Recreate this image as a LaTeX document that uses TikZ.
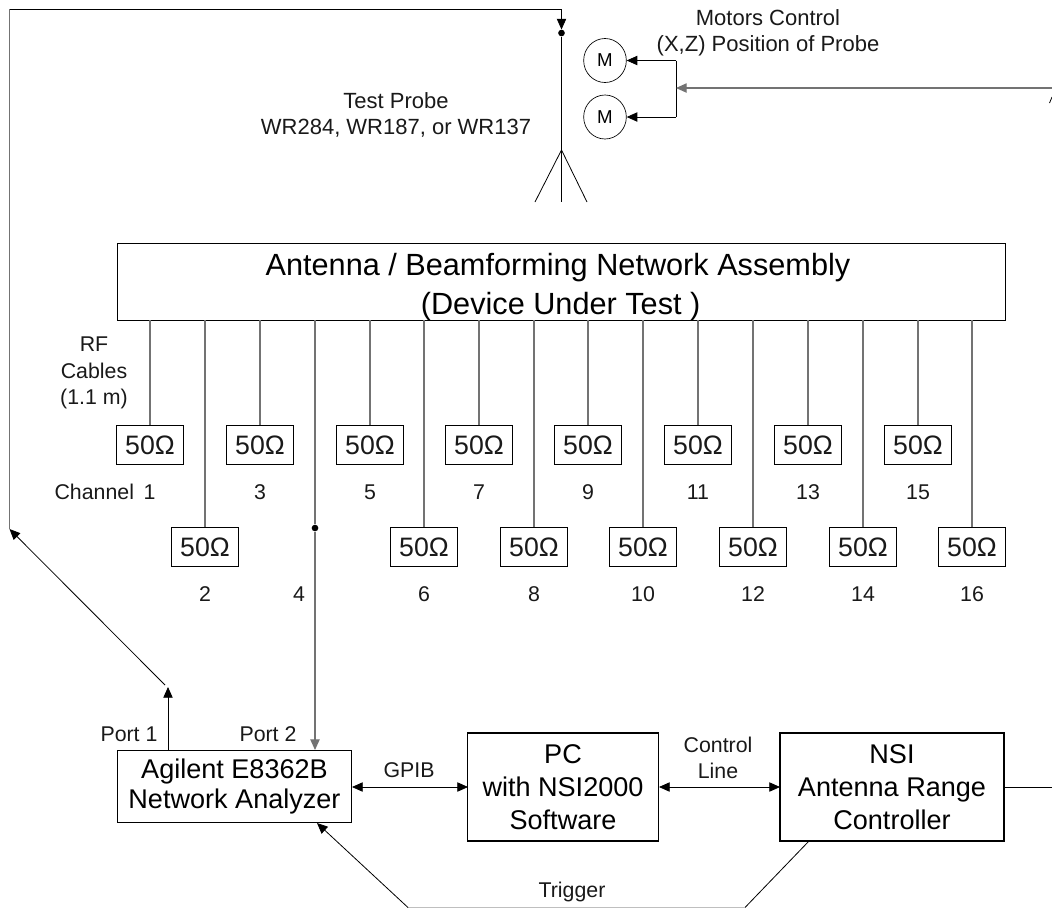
\documentclass[tikz,border=0pt]{standalone}
\usepackage{fontspec}
\setmainfont{Liberation Sans}
\usetikzlibrary{arrows.meta,shapes.geometric}
\newcommand{\fs}[1]{\fontsize{#1}{#1}\selectfont}
\newcommand{\down}[1]{\rule{0pt}{#1}}
\tikzset{
  x=0.75pt,y=-0.75pt,
  wire/.style={draw=black,line width=0.6pt},
  gwire/.style={draw=black!55,line width=0.9pt},
  arr/.style={-{Triangle[length=8pt,width=7pt]}},
  darr/.style={{Triangle[length=8pt,width=7pt]}-{Triangle[length=8pt,width=7pt]}},
  load/.style={draw,line width=0.7pt,minimum width=50.5pt,minimum height=29.5pt,inner sep=0pt,font=\fs{20},text=black!90},
  lab/.style={inner sep=0pt,align=center,text=black!90,font=\fs{16}},
  biglab/.style={lab,font=\fs{16.5}},
  big/.style={draw,line width=0.8pt,inner sep=0pt,align=center,font=\fs{20.3}},
  motor/.style={draw,ellipse,line width=0.5pt,inner sep=0pt,minimum width=32pt,minimum height=33pt,font=\fs{14}},
  jdot/.style={circle,fill=black,inner sep=0pt,minimum size=5pt},
}
\begin{document}
\begin{tikzpicture}
\useasboundingbox (0,0) rectangle (1052,908);
% DUT
\node[big,font=\fs{23},minimum width=666pt,minimum height=56.5pt,execute at begin node={\baselineskip=29pt}] (dut) at (561.3,282) {\down{24.5pt}Antenna / Beamforming Network Assembly\hspace*{5pt}\\(Device Under Test )\hspace*{1pt}};
% odd loads
\foreach \n/\x in {1/150,3/260,5/370,7/479,9/588,11/698,13/808,15/918}{
  \node[load] (L\n) at (\x,445) {50Ω};
  \coordinate (T\n) at (\x,320);
  \draw[gwire] (T\n) -- (L\n);
}
\foreach \n/\x in {2/205,6/424,8/534,10/643,12/753,14/863,16/972}{
  \node[load] (L\n) at (\x,547) {50Ω};
  \coordinate (T\n) at (\x,320);
  \draw[gwire] (T\n) -- (L\n);
  \node[lab] (N\n) at (\x,594) {\n};
}
\foreach \n/\x in {3/260,5/370,7/479,9/588,11/698,13/808,15/918}{
  \node[lab] (N\n) at (\x,492) {\n};
}
\node[lab] (N1) at (105,492) {Channel\, 1};
\node[lab] (N4) at (299,594) {4};
\node[lab,execute at begin node={\baselineskip=20pt}] (rf) at (94,373) {RF\\Cables\\(1.1 m)};
% instruments
\node[big,minimum width=175.5pt,minimum height=54pt,execute at begin node={\baselineskip=23pt}] (na) at (234.5,786.5) {Agilent E8362B\\Network Analyzer};
\node[big,minimum width=143pt,minimum height=81pt,execute at begin node={\baselineskip=25pt}] (pc) at (563,787) {PC\\with NSI2000\\Software};
\node[big,minimum width=168pt,minimum height=81pt,execute at begin node={\baselineskip=25pt}] (nsi) at (892,787) {NSI\\Antenna Range\\Controller};
\node[lab] (gpib) at (409,770) {GPIB};
\node[lab,execute at begin node={\baselineskip=19.5pt}] (cl) at (718,758) {Control\\Line};
\node[lab] (p1) at (129,734) {Port 1};
\node[lab] (p2) at (268,734) {Port 2};
\node[lab] (trig) at (572,892) {Trigger};
% probe
\node[biglab,execute at begin node={\baselineskip=20pt}] (tp) at (396,115) {Test Probe\\WR284, WR187, or WR137};
\node[biglab,execute at begin node={\baselineskip=19.5pt}] (mc) at (768,33) {Motors Control\\(X,Z) Position of Probe};
\node[motor] (m1) at (605,60.5) {M};
\node[motor] (m2) at (605,117) {M};
\node[jdot] (d1) at (561.5,33) {};
\node[jdot] (d2) at (315,528) {};
% probe wiring
\coordinate (c0) at (9.5,529);
\coordinate (c1) at (9.5,9);
\coordinate (c2) at (561.5,9);
\coordinate (c2b) at (561.5,29.5);
\coordinate (c3) at (561.5,150);
\coordinate (c4) at (561.5,202);
\coordinate (c5) at (535,202);
\coordinate (c6) at (587,202);
\draw[gwire] (c0) -- (c1);
\draw[wire] (c1) -- (c2);
\draw[wire,arr] (c2) -- (c2b);
\draw[wire] (d1) -- (c4);
\draw[wire] (c5) -- (c3) -- (c6);
% motors
\coordinate (j) at (676,88);
\coordinate (j1) at (676,60.5);
\coordinate (j2) at (676,117);
\coordinate (e1) at (1052,88);
\coordinate (e2) at (1052,787);
\coordinate (f1) at (1049.5,103);
\coordinate (f2) at (1052,97);
\draw[wire,arr] (j1) -- (m1);
\draw[wire,arr] (j2) -- (m2);
\draw[wire] (j1) -- (j2);
\draw[gwire,arr] (e1) -- (j);
\draw[wire] (f1) -- (f2);
% channel 4 and port 1
\coordinate (t4) at (315,320);
\coordinate (q4) at (315,750);
\draw[gwire] (t4) -- (d2);
\draw[gwire,arr] (d2) -- (q4);
\coordinate (p1a) at (168,687);
\coordinate (p1q) at (168,750);
\draw[wire,arr] (p1q) -- (p1a);
\coordinate (p1b) at (165,685);
\draw[wire,arr] (p1b) -- (c0);
% links
\coordinate (g1) at (352,787);
\coordinate (g2) at (468,787);
\coordinate (g3) at (659,787);
\coordinate (g4) at (780,787);
\coordinate (g5) at (1004,787);
\draw[wire,darr] (g1) -- (g2);
\draw[wire,darr] (g3) -- (g4);
\draw[wire] (g5) -- (e2);
% trigger
\coordinate (t1) at (809,841);
\coordinate (t2) at (745,907.5);
\coordinate (t3) at (408,907.5);
\coordinate (t4b) at (317,823);
\draw[wire] (t1) -- (t2);
\draw[black!25,line width=0.5pt] (t2) -- (t3);
\draw[wire,arr] (t3) -- (t4b);
\end{tikzpicture}
\end{document}
